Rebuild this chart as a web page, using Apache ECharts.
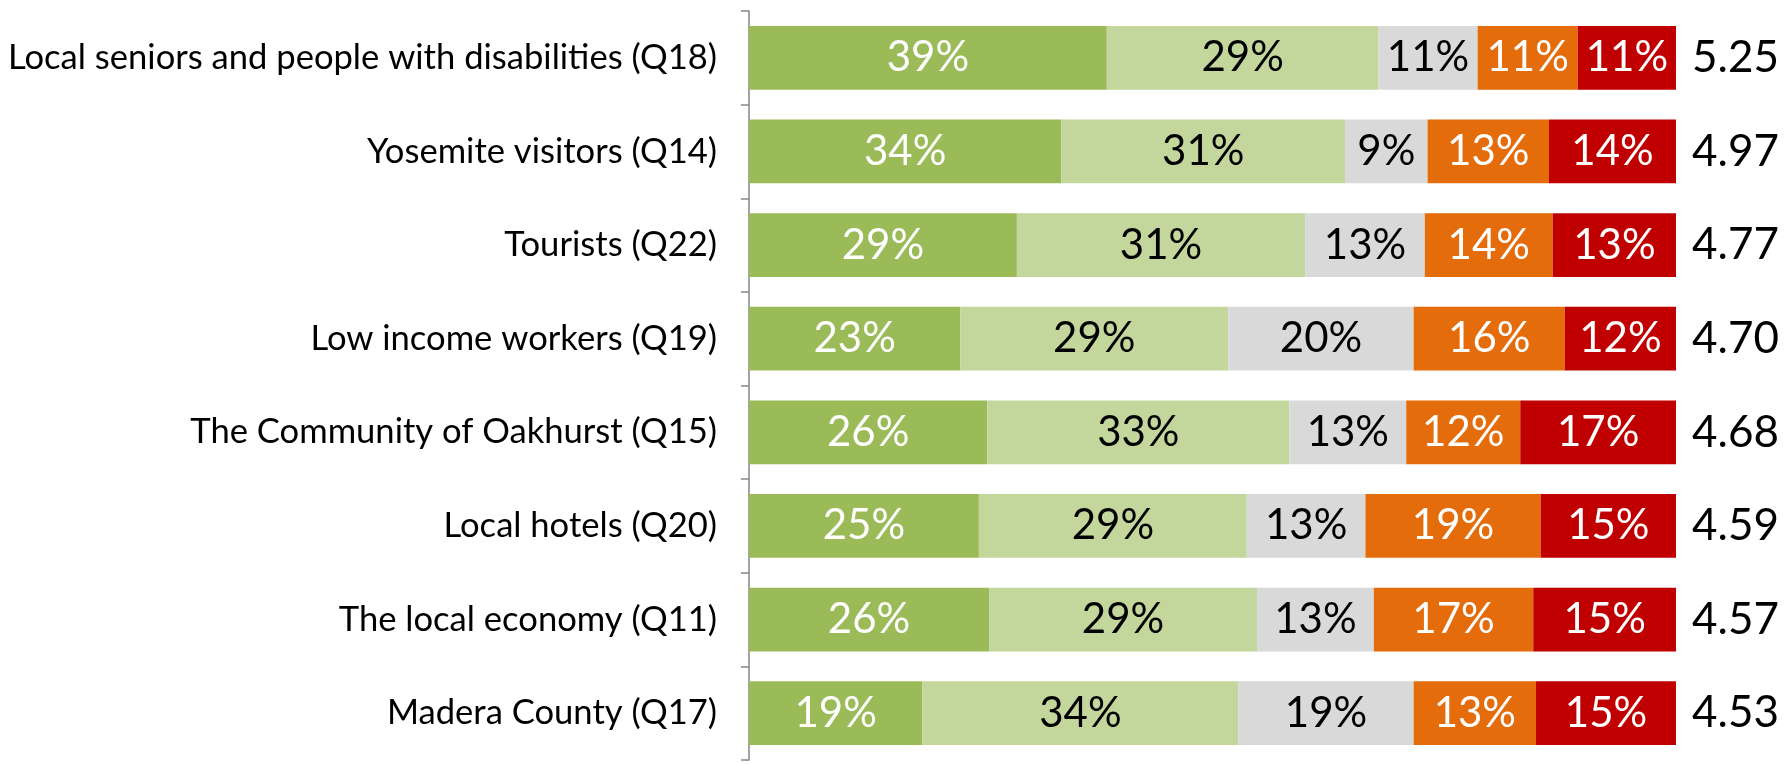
<!DOCTYPE html>
<html>
<head>
<meta charset="utf-8">
<title>Impact ratings</title>
<script src="https://cdn.jsdelivr.net/npm/echarts@6/dist/echarts.min.js"></script>
<style>
/* 整体样式 */
html,
body {
    margin: 0;
    height: 100%;
    overflow: hidden;
    background: #fff;
}
#chart {
    width: 1787px;
    height: 764px;
}
</style>
</head>
<body>
<div id="chart"></div>
<script>
// categories, top to bottom
let categories = [
    "Local seniors and people with disabilities (Q18)",
    "Yosemite visitors (Q14)",
    "Tourists (Q22)",
    "Low income workers (Q19)",
    "The Community of Oakhurst (Q15)",
    "Local hotels (Q20)",
    "The local economy (Q11)",
    "Madera County (Q17)"
];
// share of each answer, in %
let veryPositive = [38.6, 33.7, 28.9, 22.8, 25.7, 24.8, 25.9, 18.7];
let positive = [29.3, 30.6, 31.1, 28.9, 32.6, 28.9, 28.9, 34.1];
let neutral = [10.7, 8.9, 12.9, 20.0, 12.6, 12.8, 12.6, 18.9];
let negative = [10.8, 13.1, 13.8, 16.3, 12.3, 18.9, 17.2, 13.2];
let veryNegative = [10.6, 13.7, 13.3, 12.0, 16.8, 14.6, 15.4, 15.1];
// mean score shown at the right end
let scores = [5.25, 4.97, 4.77, 4.70, 4.68, 4.59, 4.57, 4.53];

let font = "Lato";

// one stacked segment
function segment(name, data, color, textColor) {
    return {
        name: name,
        type: "bar",
        stack: "total",
        data: data,
        barCategoryGap: "32%",
        itemStyle: { color: color },
        label: {
            show: true,
            position: "inside",
            color: textColor,
            fontFamily: font,
            fontSize: 42,
            formatter: function (p) {
                return Math.round(p.value) + "%";
            }
        }
    };
}

let myChart = echarts.init(document.getElementById("chart"));
let option = {
    animation: false,
    grid: {
        left: 749,
        right: 111,
        top: 11,
        bottom: 4,
        outerBoundsMode: "none"
    },
    xAxis: {
        type: "value",
        min: 0,
        max: 100,
        show: false
    },
    yAxis: [
        {
            type: "category",
            inverse: true,
            data: categories,
            axisLine: { show: true, lineStyle: { color: "#868686", width: 1.5 } },
            axisTick: {
                show: true,
                interval: 0,
                length: 8,
                lineStyle: { color: "#868686", width: 1.5 }
            },
            axisLabel: {
                margin: 32,
                color: "#000",
                fontFamily: font,
                fontSize: 34.6
            }
        },
        {
            type: "category",
            inverse: true,
            position: "right",
            data: scores.map(function (s) { return s.toFixed(2); }),
            axisLine: { show: false },
            axisTick: { show: false },
            axisLabel: {
                margin: 16,
                color: "#000",
                fontFamily: font,
                fontSize: 44
            }
        }
    ],
    series: [
        segment("Very positive", veryPositive, "#9BBB59", "#fff"),
        segment("Positive", positive, "#C3D69B", "#000"),
        segment("Neutral", neutral, "#D9D9D9", "#000"),
        segment("Negative", negative, "#E46C0A", "#fff"),
        segment("Very negative", veryNegative, "#C00000", "#fff")
    ]
};
myChart.setOption(option);
</script>
</body>
</html>
